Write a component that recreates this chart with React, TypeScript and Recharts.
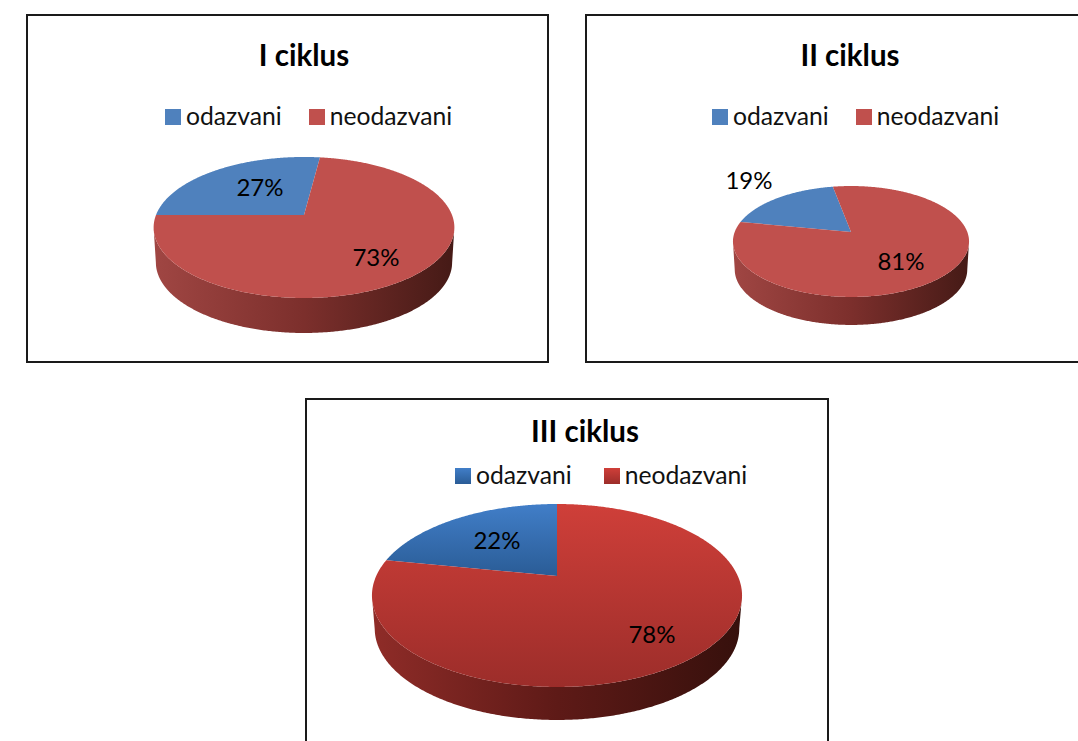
import { Legend, Pie, PieChart } from "recharts";

const categories = ["odazvani", "neodazvani"];
const cycleOneValues = [27, 73];
const cycleTwoValues = [19, 81];
const cycleThreeValues = [22, 78];

const FONT = "Lato, sans-serif";

type Layout = {
  id: string;
  title: string;
  values: number[];
  left: number;
  top: number;
  width: number;
  height: number;
  cx: number;
  cy: number;
  radius: number;
  tilt: number;
  skew: number;
  depth: number;
  startAngle: number;
  titleX: number;
  titleY: number;
  legendLeft: number;
  legendTop: number;
  legendGap: number;
  labelSpots: number[][];
  colors: string[];
  wallStops: string[];
};

const charts: Layout[] = [
  {
    id: "c1",
    title: "I ciklus",
    values: cycleOneValues,
    left: 26,
    top: 14,
    width: 523,
    height: 349,
    cx: 278,
    cy: 201,
    radius: 148,
    tilt: 0.4615,
    skew: 0.177,
    depth: 35,
    startAngle: 82.7,
    titleX: 278,
    titleY: 40,
    legendLeft: 139,
    legendTop: 88,
    legendGap: 27,
    labelSpots: [[234, 172], [350, 242]],
    colors: ["#4f81bd", "#c0504d"],
    wallStops: ["#a04643", "#7c2f2c", "#451a16"],
  },
  {
    id: "c2",
    title: "II ciklus",
    values: cycleTwoValues,
    left: 585,
    top: 14,
    width: 523,
    height: 349,
    cx: 266,
    cy: 218,
    radius: 116.3,
    tilt: 0.463,
    skew: 0.171,
    depth: 28,
    startAngle: 100.5,
    titleX: 265,
    titleY: 40,
    legendLeft: 127,
    legendTop: 88,
    legendGap: 27,
    labelSpots: [[164, 165], [316, 246]],
    colors: ["#4f81bd", "#c0504d"],
    wallStops: ["#a04643", "#7c2f2c", "#451a16"],
  },
  {
    id: "c3",
    title: "III ciklus",
    values: cycleThreeValues,
    left: 305,
    top: 398,
    width: 524,
    height: 362,
    cx: 252,
    cy: 178,
    radius: 180.8,
    tilt: 0.483,
    skew: 0.213,
    depth: 33,
    startAngle: 90,
    titleX: 280,
    titleY: 32,
    legendLeft: 150,
    legendTop: 63,
    legendGap: 32,
    labelSpots: [[192, 141], [347, 235]],
    colors: ["url(#c3-blue)", "url(#c3-red)"],
    wallStops: ["#8f2c28", "#5e1a17", "#36100c"],
  },
];

const RAD = Math.PI / 180;

function project(a: number, c: Layout, drop = 0, shrink = 1) {
  const s = Math.sin(a * RAD);
  const w = 1 + c.skew * s;
  const x = c.cx + (shrink * c.radius * Math.cos(a * RAD)) / w;
  const y = c.cy - (c.radius * c.tilt * s) / w + drop;
  return `${x.toFixed(2)},${y.toFixed(2)}`;
}

function makeShape(c: Layout) {
  return function Slice3D(props: any) {
    const { startAngle, endAngle, fill } = props;
    const angles: number[] = [];
    for (let a = startAngle; a < endAngle; a += 0.5) angles.push(a);
    angles.push(endAngle);

    const face = angles.map((a) => project(a, c));
    const facePath = `M${c.cx},${c.cy} L${face.join(" L")} Z`;

    const front = angles.filter((a) => Math.sin(a * RAD) < -c.skew);
    let wallPath = "";
    if (front.length > 1) {
      const upper = front.map((a) => project(a, c));
      const lower = [...front].reverse().map((a) => project(a, c, c.depth, 0.985));
      wallPath = `M${upper.join(" L")} L${lower.join(" L")} Z`;
    }
    return (
      <g>
        {wallPath && <path d={wallPath} fill={`url(#${c.id}-wall)`} />}
        <path d={facePath} fill={fill} />
      </g>
    );
  };
}

function makeLabel(c: Layout) {
  return function SliceLabel(props: any) {
    const spot = c.labelSpots[props.index];
    return (
      <text x={spot[0]} y={spot[1]} textAnchor="middle" dominantBaseline="central" fontFamily={FONT} fontSize={24} fill="#000">
        {`${props.value}%`}
      </text>
    );
  };
}

function makeLegend(c: Layout) {
  return function LegendRow() {
    return (
      <div style={{ display: "flex", alignItems: "center", fontFamily: FONT, fontSize: 24.7, color: "#111", lineHeight: "30px", whiteSpace: "nowrap" }}>
        {categories.map((name, i) => (
          <span key={name} style={{ display: "flex", alignItems: "center", marginRight: i === 0 ? c.legendGap : 0 }}>
            <svg width={16} height={16} style={{ marginRight: 5 }}>
              <rect width={16} height={16} fill={c.colors[i]} />
            </svg>
            <span style={{ position: "relative", top: -1 }}>{name}</span>
          </span>
        ))}
      </div>
    );
  };
}

function CycleChart({ c }: { c: Layout }) {
  const data = categories.map((name, i) => ({ name, value: c.values[i], fill: c.colors[i] }));
  return (
    <div
      style={{
        position: "absolute",
        left: c.left,
        top: c.top,
        width: c.width,
        height: c.height,
        boxSizing: "border-box",
        border: "2px solid #1a1a1a",
        background: "#fff",
      }}
    >
      <div style={{ position: "absolute", left: -2, top: -2 }}>
        <PieChart width={c.width} height={c.height} margin={{ top: 0, right: 0, bottom: 0, left: 0 }}>
          <defs>
            <linearGradient id={`${c.id}-wall`} x1="0" y1="0" x2="1" y2="0">
              <stop offset="0%" stopColor={c.wallStops[0]} />
              <stop offset="50%" stopColor={c.wallStops[1]} />
              <stop offset="100%" stopColor={c.wallStops[2]} />
            </linearGradient>
            <linearGradient id={`${c.id}-blue`} x1="0" y1="0" x2="0" y2="1">
              <stop offset="0%" stopColor="#417ec8" />
              <stop offset="100%" stopColor="#2a5c96" />
            </linearGradient>
            <linearGradient id={`${c.id}-red`} x1="0" y1="0" x2="0" y2="1">
              <stop offset="0%" stopColor="#cf3f39" />
              <stop offset="100%" stopColor="#9c2d2a" />
            </linearGradient>
          </defs>
          <text x={c.titleX} y={c.titleY} textAnchor="middle" dominantBaseline="central" fontFamily={FONT} fontWeight={700} fontSize={29.5} fill="#000">
            {c.title}
          </text>
          <Legend
            content={makeLegend(c)}
            wrapperStyle={{ position: "absolute", left: c.legendLeft, top: c.legendTop, width: "auto", bottom: "auto" }}
          />
          <Pie
            data={data}
            dataKey="value"
            nameKey="name"
            cx={c.cx}
            cy={c.cy}
            outerRadius={c.radius}
            startAngle={c.startAngle}
            endAngle={c.startAngle + 360}
            stroke="none"
            shape={makeShape(c)}
            label={makeLabel(c)}
            labelLine={false}
            isAnimationActive={false}
          />
        </PieChart>
      </div>
    </div>
  );
}

export default function App() {
  return (
    <div style={{ position: "absolute", left: 0, top: 0, width: 1078, height: 741, overflow: "hidden", background: "#fff" }}>
      {charts.map((c) => (
        <CycleChart key={c.id} c={c} />
      ))}
    </div>
  );
}
